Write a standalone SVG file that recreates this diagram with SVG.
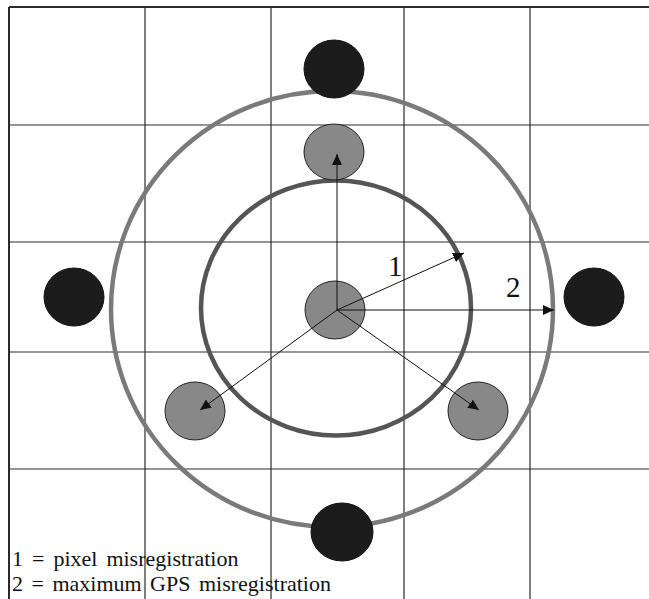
<svg xmlns="http://www.w3.org/2000/svg" width="649" height="599" viewBox="0 0 649 599">
<style>
.grid{stroke:#2a2a2a;stroke-width:1.2;fill:none}
.ring1{fill:none;stroke:#555;stroke-width:4.5}
.ring2{fill:none;stroke:#7a7a7a;stroke-width:4.5}
.black{fill:#1c1c1c;stroke:#111;stroke-width:1}
.gray{fill:#888;stroke:#222;stroke-width:1}
.arr{stroke:#111;stroke-width:1;fill:none;marker-end:url(#ah)}
.lab{font-family:"Liberation Serif",serif;fill:#111}
</style>
<defs>
<marker id="ah" markerUnits="userSpaceOnUse" markerWidth="12" markerHeight="10" refX="11" refY="5" orient="auto">
<path d="M0,0 L11,5 L0,10 Z" fill="#111"/>
</marker>
</defs>
<rect width="649" height="599" fill="#fff"/>
<g id="grid">
<line class="grid" x1="9" y1="7" x2="649" y2="7" style="stroke-width:2"/>
<line class="grid" x1="9" y1="7" x2="9" y2="599" style="stroke-width:2"/>
<line class="grid" x1="9" y1="125" x2="649" y2="125"/>
<line class="grid" x1="9" y1="242" x2="649" y2="242"/>
<line class="grid" x1="9" y1="352" x2="649" y2="352"/>
<line class="grid" x1="9" y1="469" x2="649" y2="469"/>
<line class="grid" x1="145" y1="7" x2="145" y2="599"/>
<line class="grid" x1="271" y1="7" x2="271" y2="599"/>
<line class="grid" x1="404" y1="7" x2="404" y2="599"/>
<line class="grid" x1="530" y1="7" x2="530" y2="599"/>
</g>
<g id="ring-outer"><ellipse class="ring2" cx="332" cy="309" rx="221" ry="218"/></g>
<g id="ring-inner"><ellipse class="ring1" cx="336" cy="308" rx="135" ry="127.5"/></g>
<g id="black-top"><ellipse class="black" cx="334" cy="69" rx="30" ry="29"/></g>
<g id="black-left"><ellipse class="black" cx="74" cy="297" rx="30" ry="29"/></g>
<g id="black-right"><ellipse class="black" cx="594" cy="297" rx="30" ry="29"/></g>
<g id="black-bottom"><ellipse class="black" cx="342" cy="532" rx="31" ry="29"/></g>
<g id="gray-top"><ellipse class="gray" cx="334" cy="152" rx="30" ry="28"/></g>
<g id="gray-center"><ellipse class="gray" cx="335" cy="310" rx="30" ry="29"/></g>
<g id="gray-left"><ellipse class="gray" cx="195" cy="411" rx="30" ry="29"/></g>
<g id="gray-right"><ellipse class="gray" cx="478" cy="411" rx="30" ry="29"/></g>
<g id="connectors">
<line class="arr" x1="337" y1="310" x2="337" y2="154"/>
<line class="arr" x1="337" y1="310" x2="464" y2="253"/>
<line class="arr" x1="337" y1="310" x2="554" y2="310"/>
<line class="arr" x1="337" y1="310" x2="200" y2="410"/>
<line class="arr" x1="337" y1="310" x2="479" y2="410"/>
</g>
<g id="labels">
<text class="lab" x="388" y="276" font-size="29">1</text>
<text class="lab" x="506" y="297" font-size="29">2</text>
<text class="lab" x="12" y="566" font-size="22" word-spacing="3.5">1 = pixel misregistration</text>
<text class="lab" x="12" y="591" font-size="22" word-spacing="3">2 = maximum GPS misregistration</text>
</g>
</svg>
